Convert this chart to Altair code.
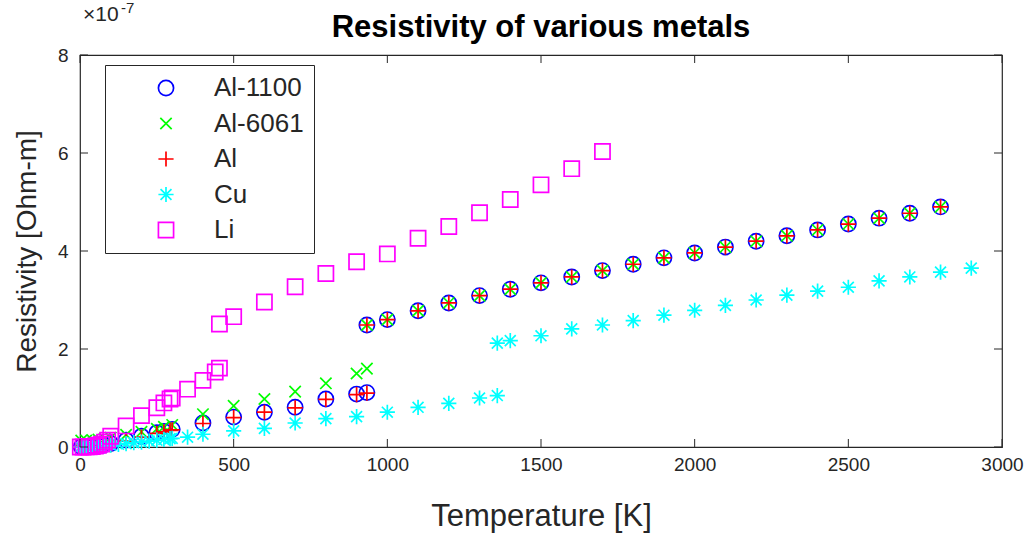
import altair as alt
import pandas as pd

# Resistivity values are in units of 1e-7 Ohm-m (axis multiplier shown at top-left)
al1100_T = [4, 20, 40, 60, 77, 100, 150, 200, 250, 273, 300, 400, 500, 600, 700, 800, 900, 933.5,
            933.5, 1000, 1100, 1200, 1300, 1400, 1500, 1600, 1700, 1800, 1900, 2000, 2100, 2200,
            2300, 2400, 2500, 2600, 2700, 2800]
al1100_rho = [0.004, 0.005, 0.01, 0.02, 0.04, 0.07, 0.14, 0.22, 0.29, 0.32, 0.36, 0.49, 0.61, 0.71, 0.81, 0.98, 1.08, 1.11,
              2.49, 2.60, 2.78, 2.94, 3.09, 3.22, 3.35, 3.47, 3.60, 3.73, 3.86, 3.96, 4.08, 4.20,
              4.31, 4.43, 4.55, 4.67, 4.77, 4.90]

al6061_T = [4, 20, 40, 60, 80, 100, 150, 200, 250, 273, 300, 400, 500, 600, 700, 800, 900, 933.5,
            933.5, 1000, 1100, 1200, 1300, 1400, 1500, 1600, 1700, 1800, 1900, 2000, 2100, 2200,
            2300, 2400, 2500, 2600, 2700, 2800]
al6061_rho = [0.13, 0.13, 0.14, 0.15, 0.17, 0.19, 0.25, 0.31, 0.37, 0.41, 0.45, 0.67, 0.84, 0.98, 1.13, 1.30, 1.50, 1.60,
              2.49, 2.60, 2.78, 2.94, 3.09, 3.22, 3.35, 3.47, 3.60, 3.73, 3.86, 3.96, 4.08, 4.20,
              4.31, 4.43, 4.55, 4.67, 4.77, 4.90]

al_T = [1, 10, 20, 40, 60, 80, 100, 150, 200, 250, 273, 293, 300, 400, 500, 600, 700, 800, 900, 933.5,
        933.5, 1000, 1100, 1200, 1300, 1400, 1500, 1600, 1700, 1800, 1900, 2000, 2100, 2200,
        2300, 2400, 2500, 2600, 2700, 2800]
al_rho = [0.0001, 0.0002, 0.001, 0.003, 0.01, 0.03, 0.05, 0.12, 0.20, 0.28, 0.31, 0.34, 0.35, 0.48, 0.60, 0.71, 0.80, 0.97, 1.07, 1.10,
          2.49, 2.60, 2.78, 2.94, 3.09, 3.22, 3.35, 3.47, 3.60, 3.73, 3.86, 3.96, 4.08, 4.20,
          4.31, 4.43, 4.55, 4.67, 4.77, 4.90]

cu_T = [1, 10, 20, 40, 60, 80, 100, 125, 150, 175, 200, 225, 250, 273, 293, 300, 350, 400, 500, 600, 700,
        800, 900, 1000, 1100, 1200, 1300, 1357.8, 1357.8, 1400, 1500, 1600, 1700, 1800, 1900, 2000,
        2100, 2200, 2300, 2400, 2500, 2600, 2700, 2800, 2900]
cu_rho = [0.0, 0.0, 0.0001, 0.002, 0.01, 0.02, 0.035, 0.055, 0.07, 0.09, 0.10, 0.12, 0.14, 0.155, 0.17, 0.175, 0.20, 0.26, 0.33, 0.38, 0.49,
          0.58, 0.62, 0.71, 0.81, 0.89, 1.00, 1.05, 2.12, 2.17, 2.27, 2.41, 2.49, 2.58, 2.69, 2.79,
          2.89, 3.00, 3.10, 3.18, 3.26, 3.39, 3.47, 3.57, 3.65]

li_T = [1, 10, 20, 30, 40, 50, 60, 70, 80, 90, 100, 150, 200, 250, 273, 293, 300, 350, 400, 440, 453.7,
        453.7, 500, 600, 700, 800, 900, 1000, 1100, 1200, 1300, 1400, 1500, 1600, 1700]
li_rho = [0.001, 0.001, 0.002, 0.004, 0.01, 0.02, 0.035, 0.06, 0.10, 0.14, 0.22, 0.43, 0.64, 0.80, 0.90, 0.98, 1.00, 1.18, 1.36, 1.53, 1.61,
          2.51, 2.66, 2.96, 3.27, 3.54, 3.78, 3.94, 4.26, 4.50, 4.78, 5.05, 5.35, 5.68, 6.03]

series = ["Al-1100", "Al-6061", "Al", "Cu", "Li"]
colors = ["#0000FF", "#00FF00", "#FF0000", "#00FFFF", "#FF00FF"]

PLUS = "M-1,0H1M0,-1V1"
XMARK = "M-0.75,-0.75L0.75,0.75M-0.75,0.75L0.75,-0.75"
STAR = "M-1,0H1M0,-1V1M-0.72,-0.72L0.72,0.72M-0.72,0.72L0.72,-0.72"
shapes = ["circle", XMARK, PLUS, STAR, "square"]

x_ticks = [0, 500, 1000, 1500, 2000, 2500, 3000]
y_ticks = [0, 2, 4, 6, 8]

frames = []
for name, T, rho in [("Al-1100", al1100_T, al1100_rho), ("Al-6061", al6061_T, al6061_rho),
                     ("Al", al_T, al_rho), ("Cu", cu_T, cu_rho), ("Li", li_T, li_rho)]:
    frames.append(pd.DataFrame({"metal": name, "T": T, "rho": rho}))
df = pd.concat(frames, ignore_index=True)

W, H = 922, 392
INK = "#262626"
FONT = "Liberation Sans"
MARK_SIZE = 230

xscale = alt.Scale(domain=[0, 3000], nice=False, zero=False)
yscale = alt.Scale(domain=[0, 8], nice=False, zero=False)
xaxis = alt.Axis(title="Temperature [K]", values=x_ticks, ticks=False, domain=False, labelFlush=False,
                 grid=False, labelPadding=8, titlePadding=27, titleFontSize=31, format="d")
yaxis = alt.Axis(title="Resistivity [Ohm-m]", values=y_ticks, ticks=False, domain=False, labelFlush=False,
                 grid=False, labelPadding=12, titlePadding=16, titleFontSize=28, format="d")
X = alt.X("T:Q", scale=xscale, axis=xaxis)
Y = alt.Y("rho:Q", scale=yscale, axis=yaxis)

legend = alt.Legend(title=None, orient="none", legendX=25, legendY=10,
                    labelExpr="datum.label + '\u200a'")
points = alt.Chart(df).mark_point(filled=False, strokeWidth=1.7, size=MARK_SIZE, opacity=1).encode(
    x=X, y=Y,
    color=alt.Color("metal:N", scale=alt.Scale(domain=series, range=colors), legend=legend),
    shape=alt.Shape("metal:N", scale=alt.Scale(domain=series, range=shapes), legend=legend),
)

xt = pd.DataFrame({"T": x_ticks})
yt = pd.DataFrame({"rho": y_ticks})

# inward tick marks on all four sides of the box
bottom_ticks = alt.Chart(xt).mark_rule(color=INK, strokeWidth=1).encode(
    x=X, y=alt.value(H), y2=alt.value(H - 8))
top_ticks = alt.Chart(xt).mark_rule(color=INK, strokeWidth=1).encode(
    x=X, y=alt.value(0), y2=alt.value(8))
left_ticks = alt.Chart(yt).mark_rule(color=INK, strokeWidth=1).encode(
    y=Y, x=alt.value(0), x2=alt.value(8))
right_ticks = alt.Chart(yt).mark_rule(color=INK, strokeWidth=1).encode(
    y=Y, x=alt.value(W), x2=alt.value(W - 8))

# axis multiplier "×10^-7" and the title, anchored to the top of the axes
ann = pd.DataFrame({"T": [0], "rho": [8]})
mult_base = alt.Chart(ann).mark_text(text="×10", font=FONT, fontSize=21, color=INK,
                                     align="left", baseline="alphabetic", dx=3, dy=-34).encode(x=X, y=Y)
mult_exp = alt.Chart(ann).mark_text(text="-7", font=FONT, fontSize=15, color=INK,
                                    align="left", baseline="alphabetic", dx=41, dy=-42).encode(x=X, y=Y)
title_df = pd.DataFrame({"T": [1500], "rho": [8], "label": ["Resistivity of various metals"]})
title = alt.Chart(title_df).mark_text(font=FONT, fontSize=31, fontWeight="bold", color="#000000",
                                      align="center", baseline="alphabetic", dy=-18).encode(
    x=X, y=Y, text="label:N")

chart = alt.layer(points, bottom_ticks, top_ticks, left_ticks, right_ticks,
                  mult_base, mult_exp, title).properties(
    width=W, height=H,
    autosize=alt.AutoSizeParams(type="none"),
    padding={"left": 80, "top": 55, "right": 34, "bottom": 87},
).configure_view(
    stroke=INK, strokeWidth=1.2
).configure_axis(
    labelFont=FONT, labelFontSize=19, labelColor=INK,
    titleFont=FONT, titleColor=INK, titleFontWeight="normal"
).configure_legend(
    labelFont=FONT, labelFontSize=26, labelColor=INK,
    strokeColor=INK, fillColor="#FFFFFF", padding=10, cornerRadius=0,
    symbolOffset=38, labelOffset=35, rowPadding=9.5, symbolSize=MARK_SIZE, symbolStrokeWidth=1.7,
    symbolFillColor="transparent", labelLimit=300
)

chart.save("out.html", embed_options={"renderer": "svg", "actions": False})
